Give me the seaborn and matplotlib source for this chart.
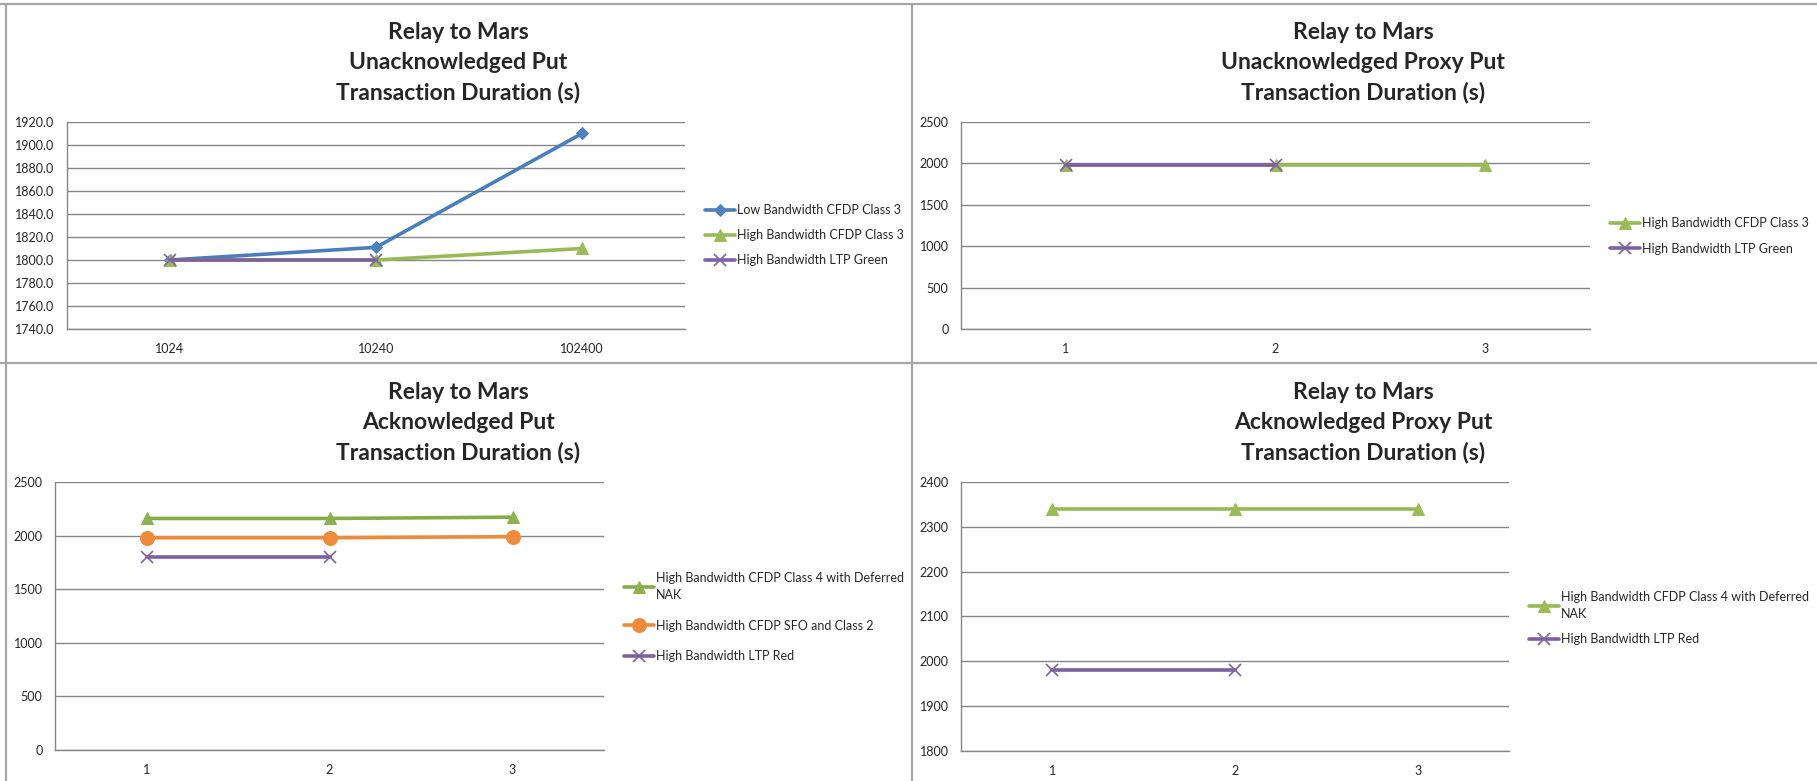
"""
Relay to Mars - transaction duration panels (4 line charts in one figure).
"""

import numpy as np
import matplotlib
matplotlib.use("Agg")
import matplotlib.pyplot as plt
from matplotlib.lines import Line2D
import seaborn as sns

sns.set_style("white")
plt.rcParams["font.family"] = ["Lato", "DejaVu Sans"]

W, H = 1817, 781

# ── data ──────────────────────────────────────────────────────────────────────
tl_cats = ["1024", "10240", "102400"]
tl_low_cfdp3 = [1800, 1811, 1910]
tl_high_cfdp3 = [1800, 1800, 1810]
tl_high_ltp_green = [1800, 1800]

tr_cats = ["1", "2", "3"]
tr_high_cfdp3 = [1980, 1980, 1980]
tr_high_ltp_green = [1980, 1980]

bl_cats = ["1", "2", "3"]
bl_class4_nak = [2160, 2160, 2172]
bl_sfo_class2 = [1980, 1980, 1990]
bl_ltp_red = [1800, 1800]

br_cats = ["1", "2", "3"]
br_class4_nak = [2340, 2340, 2340]
br_ltp_red = [1980, 1980]

LBL_LOW3 = "Low Bandwidth CFDP Class 3"
LBL_HIGH3 = "High Bandwidth CFDP Class 3"
LBL_LTPG = "High Bandwidth LTP Green"
LBL_C4 = "High Bandwidth CFDP Class 4 with Deferred\nNAK"
LBL_SFO = "High Bandwidth CFDP SFO and Class 2"
LBL_LTPR = "High Bandwidth LTP Red"

STYLE = {
    "blue":   dict(color="#4A7EBB", marker="D", ms=6, mfc="#4F81BD", mec="#4F81BD"),
    "green":  dict(color="#98B954", marker="^", ms=9, mfc="#9BBB59", mec="#9BBB59"),
    "green2": dict(color="#86AC4A", marker="^", ms=9, mfc="#8DB150", mec="#8DB150"),
    "purple": dict(color="#7D60A0", marker="x", ms=8, mfc="#8064A2", mec="#8064A2", mew=1.2),
    "orange": dict(color="#EE8A3C", marker="o", ms=10, mfc="#EE8A3C", mec="#EE8A3C"),
}
GRID = "#868686"
TXT = 9


def px_axes(l, t, r, b):
    return fig.add_axes([l / W, 1 - b / H, (r - l) / W, (b - t) / H])


def draw(ax, cats, vals, key, label):
    st = STYLE[key]
    sns.lineplot(x=cats[:len(vals)], y=vals, ax=ax, sort=False, lw=2.6,
                 label=label, **st)


def style_axes(ax, ylim, step, fmt):
    ax.set_xlim(-0.5, 2.5)
    ax.set_ylim(*ylim)
    ax.set_yticks(np.arange(ylim[0], ylim[1] + step / 2, step))
    ax.yaxis.set_major_formatter(matplotlib.ticker.FormatStrFormatter(fmt))
    ax.set_xticks([-0.5, 0.5, 1.5, 2.5], minor=True)
    ax.grid(axis="y", color=GRID, lw=1.0)
    ax.set_axisbelow(True)
    for s in ["top", "right"]:
        ax.spines[s].set_visible(False)
    for s in ["left", "bottom"]:
        ax.spines[s].set_color(GRID)
        ax.spines[s].set_linewidth(1.0)
    ax.tick_params(axis="y", length=4, width=1, color=GRID, pad=5, labelsize=TXT)
    ax.tick_params(axis="x", which="major", length=0, pad=10, labelsize=TXT)
    ax.tick_params(axis="x", which="minor", length=5, width=1, color=GRID)
    ax.set_xlabel("")
    ax.set_ylabel("")


def legend(ax, x, y, spacing):
    leg = ax.legend(loc="center left", bbox_to_anchor=(x / W, 1 - y / H),
                    bbox_transform=fig.transFigure, frameon=False, fontsize=TXT,
                    handlelength=2.4, handletextpad=0.15, borderpad=0,
                    borderaxespad=0, labelspacing=spacing, numpoints=1)
    for t in leg.get_texts():
        t.set_linespacing(1.55)


def title(x, y, name):
    fig.text(x / W, 1 - y / H, f"Relay to Mars\n{name}\nTransaction Duration (s)",
             ha="center", va="center", fontsize=16.5, fontweight="bold",
             linespacing=1.5)


fig = plt.figure(figsize=(W / 100, H / 100), dpi=100)

# ── top-left ──────────────────────────────────────────────────────────────────
ax = px_axes(67, 122, 685, 329)
draw(ax, tl_cats, tl_low_cfdp3, "blue", LBL_LOW3)
draw(ax, tl_cats, tl_high_cfdp3, "green", LBL_HIGH3)
draw(ax, tl_cats, tl_high_ltp_green, "purple", LBL_LTPG)
style_axes(ax, (1740, 1920), 20, "%.1f")
legend(ax, 705, 235, 1.05)
title(458, 63, "Unacknowledged Put")

# ── top-right ─────────────────────────────────────────────────────────────────
ax = px_axes(961, 122, 1590, 329)
draw(ax, tr_cats, tr_high_cfdp3, "green", LBL_HIGH3)
draw(ax, tr_cats, tr_high_ltp_green, "purple", LBL_LTPG)
style_axes(ax, (0, 2500), 500, "%d")
legend(ax, 1610, 236, 1.05)
title(1363, 63, "Unacknowledged Proxy Put")

# ── bottom-left ───────────────────────────────────────────────────────────────
ax = px_axes(55, 482, 604, 750)
draw(ax, bl_cats, bl_class4_nak, "green2", LBL_C4)
draw(ax, bl_cats, bl_sfo_class2, "orange", LBL_SFO)
draw(ax, bl_cats, bl_ltp_red, "purple", LBL_LTPR)
style_axes(ax, (0, 2500), 500, "%d")
legend(ax, 624, 617, 1.5)
title(458, 423, "Acknowledged Put")

# ── bottom-right ──────────────────────────────────────────────────────────────
ax = px_axes(961, 482, 1509, 751)
draw(ax, br_cats, br_class4_nak, "green", LBL_C4)
draw(ax, br_cats, br_ltp_red, "purple", LBL_LTPR)
style_axes(ax, (1800, 2400), 100, "%d")
legend(ax, 1529, 618, 1.0)
title(1363, 423, "Acknowledged Proxy Put")

# ── panel frame lines ─────────────────────────────────────────────────────────
FRAME = dict(color="#A6A6A6", lw=1.6, transform=fig.transFigure)
fig.add_artist(Line2D([0, 1], [1 - 4 / H, 1 - 4 / H], **FRAME))
fig.add_artist(Line2D([0, 1], [1 - 363 / H, 1 - 363 / H], **FRAME))
fig.add_artist(Line2D([6 / W, 6 / W], [0, 1 - 4 / H], **FRAME))
fig.add_artist(Line2D([912 / W, 912 / W], [0, 1 - 4 / H], **FRAME))

fig.savefig("out.png", dpi=100)
